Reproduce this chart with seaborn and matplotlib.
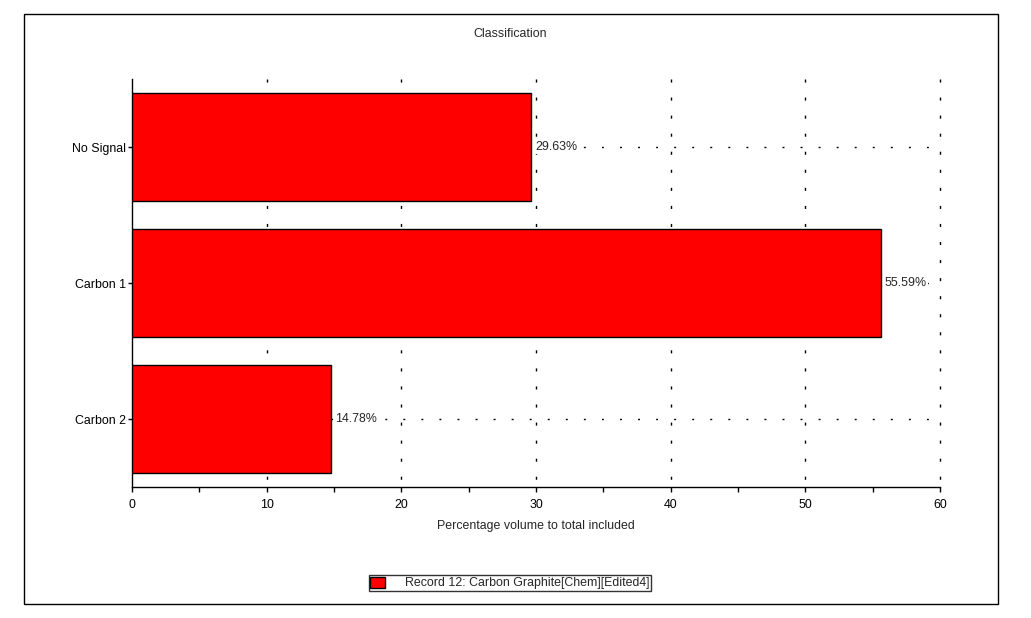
import matplotlib
matplotlib.use("Agg")
import matplotlib.pyplot as plt
import seaborn as sns
import pandas as pd
from matplotlib.patches import Rectangle, Patch

categories = ["No Signal", "Carbon 1", "Carbon 2"]
values = [29.63, 55.59, 14.78]
value_labels = ["29.63%", "55.59%", "14.78%"]
x_ticks = [0, 10, 20, 30, 40, 50, 60]
title = "Classification"
x_label = "Percentage volume to total included"
legend_label = "Record 12: Carbon Graphite[Chem][Edited4]"

FS = 8.9
sns.set_theme(style="white")
plt.rcParams['font.family'] = ['Liberation Sans', 'DejaVu Sans']
plt.rcParams['font.size'] = FS

df = pd.DataFrame({"cat": categories, "val": values})

fig = plt.figure(figsize=(10.31, 6.18), dpi=100)
ax = fig.add_axes([132/1031, 1-487/618, (940-132)/1031, (487-79)/618])

sns.barplot(data=df, x="val", y="cat", orient="h", color="#ff0000",
            saturation=1, edgecolor="black", linewidth=1, width=0.8, ax=ax, zorder=3)

ax.set_xlim(0, 60)
ax.set_ylim(2.5, -0.5)
ax.set_xticks(x_ticks)
ax.set_xticks([5, 15, 25, 35, 45, 55], minor=True)
ax.tick_params(axis='x', which='both', direction='out', length=3.5, width=1,
               colors='black', labelsize=FS, pad=5.5, bottom=True)
ax.tick_params(axis='y', direction='out', length=3, width=1, colors='black',
               labelsize=FS, pad=1.5, left=True)
for s in ["top", "right"]:
    ax.spines[s].set_visible(False)
for s in ["left", "bottom"]:
    ax.spines[s].set_color("black")
    ax.spines[s].set_linewidth(1)

ax.grid(False)
for xv in x_ticks[1:]:
    ax.plot([xv, xv], [-0.5, 2.5], color="black", linestyle=(0, (2.2, 10.8)),
            linewidth=1, zorder=1, clip_on=False)
for i in range(len(categories)):
    ax.axhline(i, color="black", linestyle=(0, (1.4, 11.6)), linewidth=1, zorder=1)

ax.set_xlabel(x_label, fontsize=FS, labelpad=6)
ax.set_ylabel("")

for i, (v, lab) in enumerate(zip(values, value_labels)):
    ax.annotate(lab, xy=(v, i), xytext=(3, 0), textcoords="offset points",
                va="center", ha="left", fontsize=FS, zorder=4,
                bbox=dict(facecolor="white", edgecolor="none", pad=0.5))

fig.text(510/1031, 1-34/618, title, ha="center", va="center", fontsize=FS)

# outer frame
fig.patches.append(Rectangle((24/1031, 1-604/618), (998-24)/1031, (604-14)/618,
                             transform=fig.transFigure, fill=False,
                             edgecolor="black", linewidth=1))

handles = [Patch(facecolor="#ff0000", edgecolor="black", linewidth=1)]
leg = fig.legend(handles, [legend_label], loc="center", bbox_to_anchor=(510/1031, 1-583/618),
                 frameon=True, fancybox=False, fontsize=FS, handlelength=1.2,
                 handleheight=1.0, borderpad=0.15, handletextpad=1.6, borderaxespad=0)
leg.get_frame().set_edgecolor("black")
leg.get_frame().set_linewidth(1)

fig.savefig("out.png", dpi=100, facecolor="white")
